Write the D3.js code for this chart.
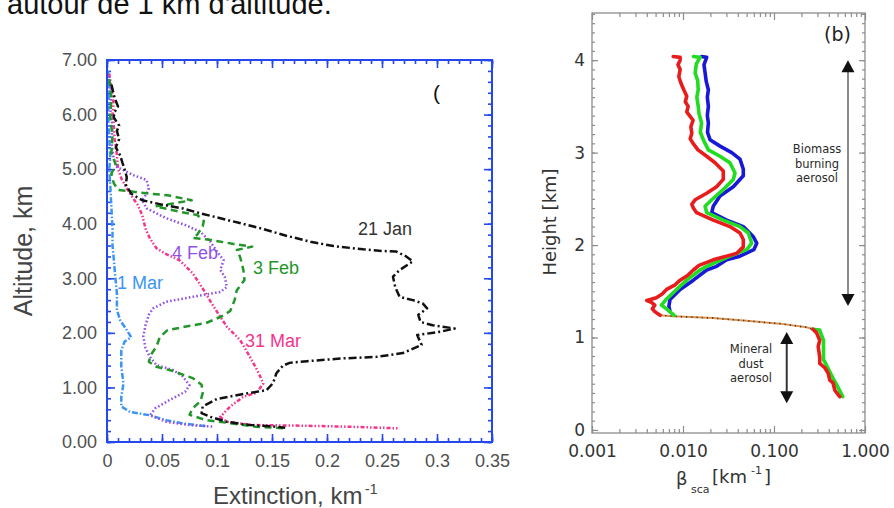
<!DOCTYPE html>
<html>
<head>
<meta charset="utf-8">
<script src="https://cdn.jsdelivr.net/npm/d3@7"></script>
<style>
  html, body { margin: 0; padding: 0; background: #ffffff; }
  svg { display: block; }
</style>
</head>
<body>
<svg id="fig" width="894" height="508"></svg>
<script>
// ---------- Panel (a): extinction profiles, [extinction km^-1, altitude km] ----------
const extTicks = [0, 0.05, 0.1, 0.15, 0.2, 0.25, 0.3, 0.35];
const altTicks = [0, 1, 2, 3, 4, 5, 6, 7];

const jan21 = [[0.004,6.55],[0.007,6.30],[0.010,6.15],[0.007,6.05],[0.006,5.95],[0.011,5.80],[0.009,5.70],[0.011,5.55],[0.008,5.40],[0.012,5.25],[0.014,5.12],[0.016,5.00],[0.018,4.85],[0.017,4.72],[0.022,4.55],[0.032,4.43],[0.050,4.35],[0.069,4.28],[0.085,4.19],[0.109,4.07],[0.139,3.92],[0.163,3.78],[0.185,3.67],[0.206,3.59],[0.233,3.53],[0.251,3.50],[0.263,3.49],[0.272,3.40],[0.278,3.31],[0.266,3.15],[0.260,3.03],[0.262,2.84],[0.266,2.66],[0.278,2.60],[0.287,2.54],[0.291,2.45],[0.283,2.33],[0.285,2.20],[0.296,2.14],[0.316,2.08],[0.303,2.02],[0.282,1.96],[0.286,1.78],[0.269,1.63],[0.245,1.56],[0.212,1.53],[0.182,1.48],[0.166,1.45],[0.160,1.40],[0.154,1.26],[0.151,1.08],[0.145,0.95],[0.127,0.89],[0.100,0.79],[0.087,0.65],[0.086,0.53],[0.094,0.46],[0.109,0.37],[0.130,0.31],[0.154,0.28],[0.162,0.26]];

const feb4 = [[0.002,6.70],[0.004,6.40],[0.003,6.10],[0.005,5.80],[0.004,5.50],[0.006,5.20],[0.008,5.05],[0.024,4.89],[0.036,4.80],[0.038,4.65],[0.036,4.55],[0.032,4.43],[0.036,4.28],[0.054,4.10],[0.072,3.97],[0.085,3.85],[0.094,3.67],[0.100,3.49],[0.106,3.33],[0.103,3.15],[0.107,3.03],[0.109,2.84],[0.103,2.75],[0.078,2.66],[0.054,2.57],[0.042,2.45],[0.038,2.33],[0.035,2.14],[0.033,1.93],[0.035,1.72],[0.039,1.56],[0.045,1.41],[0.060,1.32],[0.069,1.20],[0.075,1.04],[0.071,0.92],[0.057,0.77],[0.044,0.62],[0.039,0.49],[0.054,0.37],[0.075,0.31],[0.097,0.28]];

const feb3 = [[0.002,6.65],[0.004,6.30],[0.003,5.95],[0.005,5.60],[0.004,5.30],[0.008,5.08],[0.004,4.92],[0.006,4.75],[0.010,4.62],[0.030,4.57],[0.055,4.52],[0.077,4.43],[0.060,4.37],[0.044,4.32],[0.066,4.22],[0.082,4.16],[0.088,4.05],[0.087,3.95],[0.082,3.80],[0.078,3.74],[0.095,3.70],[0.115,3.63],[0.132,3.58],[0.118,3.52],[0.121,3.39],[0.124,3.15],[0.125,2.97],[0.118,2.78],[0.116,2.60],[0.112,2.40],[0.104,2.30],[0.090,2.18],[0.073,2.12],[0.055,2.05],[0.048,1.92],[0.045,1.75],[0.040,1.60],[0.038,1.47],[0.045,1.38],[0.060,1.30],[0.078,1.17],[0.086,1.05],[0.087,0.90],[0.085,0.75],[0.078,0.62],[0.075,0.50],[0.090,0.40],[0.110,0.35],[0.135,0.28],[0.162,0.25]];

const mar31 = [[0.002,6.75],[0.004,6.50],[0.006,6.20],[0.005,6.00],[0.006,5.85],[0.007,5.55],[0.009,5.26],[0.010,5.01],[0.013,4.83],[0.018,4.65],[0.022,4.52],[0.028,4.34],[0.032,4.16],[0.035,3.91],[0.039,3.73],[0.045,3.55],[0.053,3.45],[0.066,3.33],[0.078,3.09],[0.088,2.78],[0.097,2.48],[0.109,2.11],[0.121,1.87],[0.130,1.56],[0.138,1.26],[0.142,1.07],[0.136,0.90],[0.124,0.83],[0.112,0.65],[0.103,0.46],[0.109,0.37],[0.133,0.31],[0.175,0.30],[0.220,0.28],[0.266,0.25]];

const mar1 = [[0.001,6.80],[0.002,6.40],[0.001,6.00],[0.002,5.60],[0.003,5.20],[0.002,5.00],[0.003,4.70],[0.004,4.30],[0.005,3.90],[0.005,3.60],[0.006,3.39],[0.007,3.15],[0.009,2.72],[0.009,2.42],[0.012,2.23],[0.018,2.05],[0.022,1.92],[0.016,1.84],[0.013,1.68],[0.013,1.38],[0.015,1.07],[0.013,0.83],[0.013,0.65],[0.021,0.55],[0.039,0.49],[0.054,0.40],[0.069,0.34],[0.090,0.29]];

const profileNames = ["21 Jan", "3 Feb", "4 Feb", "31 Mar", "1 Mar"];

// ---------- Panel (b): scattering coefficient, [beta_sca km^-1, height km] ----------
const betaTicks = [0.001, 0.01, 0.1, 1];
const heightTicks = [0, 1, 2, 3, 4];

const blueUpper = [[0.0160,4.04],[0.0182,4.03],[0.0170,3.95],[0.0175,3.86],[0.0180,3.77],[0.0190,3.68],[0.0185,3.60],[0.0190,3.50],[0.0185,3.40],[0.0190,3.32],[0.0186,3.22],[0.0198,3.14],[0.0255,3.07],[0.0343,3.00],[0.0423,2.93],[0.0460,2.82],[0.0460,2.75],[0.0357,2.63],[0.0255,2.53],[0.0215,2.42],[0.0207,2.35],[0.0302,2.27],[0.0460,2.20],[0.0593,2.09],[0.0646,2.02],[0.0600,1.95],[0.0423,1.88],[0.0302,1.84],[0.0234,1.77],[0.0182,1.73],[0.0130,1.62],[0.0093,1.52],[0.0072,1.41],[0.0070,1.34],[0.0072,1.28]];

const greenUpper = [[0.0130,4.04],[0.0154,4.03],[0.0140,3.96],[0.0136,3.86],[0.0145,3.78],[0.0147,3.68],[0.0142,3.60],[0.0147,3.50],[0.0150,3.42],[0.0160,3.32],[0.0155,3.22],[0.0167,3.14],[0.0190,3.03],[0.0255,2.96],[0.0328,2.89],[0.0373,2.78],[0.0357,2.71],[0.0277,2.60],[0.0207,2.49],[0.0175,2.42],[0.0182,2.35],[0.0277,2.27],[0.0423,2.20],[0.0522,2.13],[0.0569,2.02],[0.0501,1.95],[0.0328,1.88],[0.0182,1.77],[0.0154,1.73],[0.0110,1.62],[0.0085,1.52],[0.0065,1.41],[0.0058,1.35],[0.0068,1.30],[0.0080,1.24]];

const redUpper = [[0.0078,4.04],[0.0093,4.03],[0.0093,4.00],[0.0088,3.95],[0.0093,3.90],[0.0090,3.82],[0.0095,3.75],[0.0102,3.68],[0.0110,3.61],[0.0106,3.55],[0.0114,3.50],[0.0110,3.44],[0.0118,3.40],[0.0129,3.35],[0.0122,3.28],[0.0125,3.21],[0.0120,3.15],[0.0129,3.10],[0.0146,3.03],[0.0182,2.96],[0.0225,2.89],[0.0277,2.80],[0.0277,2.71],[0.0234,2.63],[0.0182,2.56],[0.0136,2.49],[0.0125,2.44],[0.0130,2.40],[0.0141,2.35],[0.0215,2.27],[0.0328,2.20],[0.0423,2.13],[0.0460,2.06],[0.0460,1.98],[0.0389,1.91],[0.0215,1.84],[0.0150,1.78],[0.0130,1.73],[0.0112,1.67],[0.0093,1.62],[0.0082,1.57],[0.0066,1.52],[0.0059,1.47],[0.0051,1.43],[0.0040,1.40],[0.0045,1.38],[0.0049,1.35],[0.0046,1.31],[0.0049,1.28],[0.0056,1.24]];

// sharp step between the dust layer and the smoke layer
const bridge = [[0.0056,1.24],[0.0078,1.23],[0.0214,1.21],[0.0500,1.18],[0.1160,1.15],[0.2280,1.11],[0.2680,1.09]];

const greenLower = [[0.2680,1.09],[0.318,1.08],[0.350,0.97],[0.350,0.90],[0.350,0.76],[0.378,0.70],[0.410,0.63],[0.445,0.56],[0.487,0.49],[0.530,0.42],[0.570,0.36]];

const redLower = [[0.2680,1.09],[0.294,1.05],[0.318,0.97],[0.306,0.90],[0.318,0.79],[0.318,0.72],[0.364,0.67],[0.395,0.61],[0.410,0.54],[0.445,0.51],[0.466,0.43],[0.507,0.38],[0.530,0.36]];

// vertical extents of the two annotated layers [bottom km, top km] and their beta position
const smokeLayer = [1.34, 4.0];
const smokeArrowBeta = 0.65;
const dustLayer = [0.29, 1.06];
const dustArrowBeta = 0.138;

// ---------- drawing ----------
const svg = d3.select("#fig");
const sans = "'Liberation Sans', Arial, Helvetica, sans-serif";
const dejavu = "'DejaVu Sans', Verdana, sans-serif";

// running text line above the figures
svg.append("text")
  .attr("x", 7).attr("y", 14)
  .attr("font-family", sans).attr("font-size", 29).attr("fill", "#111")
  .text("autour de 1 km d'altitude.");

// ===== panel (a) =====
const xA = d3.scaleLinear().domain([0, 0.35]).range([107, 492]);
const yA = d3.scaleLinear().domain([0, 7]).range([442, 60]);
const frameBlue = "#2447ee";
const gA = svg.append("g");

function finishAxis(g, color, width, fontFam, fontSize, textFill) {
  g.select(".domain").remove();
  g.selectAll(".tick line").attr("stroke", color).attr("stroke-width", width);
  g.selectAll(".tick text").attr("font-family", fontFam).attr("font-size", fontSize).attr("fill", textFill);
}

const extMinor = d3.range(0, 36).map(i => i / 100);
const altMinor = d3.range(0, 36).map(i => i / 5);
const extFmt = d => String(+d.toFixed(2));

gA.append("g").attr("transform", "translate(0,442)")
  .call(d3.axisBottom(xA).tickValues(extMinor).tickSize(-4).tickFormat(""))
  .call(g => finishAxis(g, frameBlue, 1.6, sans, 18, "#505050"));
gA.append("g").attr("transform", "translate(0,442)")
  .call(d3.axisBottom(xA).tickValues(extTicks).tickSize(-8).tickPadding(12).tickFormat(extFmt))
  .call(g => finishAxis(g, frameBlue, 1.6, sans, 18, "#505050"));
gA.append("g").attr("transform", "translate(0,60)")
  .call(d3.axisTop(xA).tickValues(extMinor).tickSize(-4).tickFormat(""))
  .call(g => finishAxis(g, frameBlue, 1.6, sans, 18, "#505050"));
gA.append("g").attr("transform", "translate(0,60)")
  .call(d3.axisTop(xA).tickValues(extTicks).tickSize(-8).tickFormat(""))
  .call(g => finishAxis(g, frameBlue, 1.6, sans, 18, "#505050"));
gA.append("g").attr("transform", "translate(107,0)")
  .call(d3.axisLeft(yA).tickValues(altMinor).tickSize(-4).tickFormat(""))
  .call(g => finishAxis(g, frameBlue, 1.6, sans, 18, "#505050"));
gA.append("g").attr("transform", "translate(107,0)")
  .call(d3.axisLeft(yA).tickValues(altTicks).tickSize(-8).tickPadding(10).tickFormat(d3.format(".2f")))
  .call(g => finishAxis(g, frameBlue, 1.6, sans, 18, "#505050"));
gA.append("g").attr("transform", "translate(492,0)")
  .call(d3.axisRight(yA).tickValues(altMinor).tickSize(-4).tickFormat(""))
  .call(g => finishAxis(g, frameBlue, 1.6, sans, 18, "#505050"));
gA.append("g").attr("transform", "translate(492,0)")
  .call(d3.axisRight(yA).tickValues(altTicks).tickSize(-8).tickFormat(""))
  .call(g => finishAxis(g, frameBlue, 1.6, sans, 18, "#505050"));

const lineA = d3.line().x(d => xA(d[0])).y(d => yA(d[1]));
const profiles = [
  { name: profileNames[4], data: mar1,  color: "#3a95f5", dash: "6,2,1.5,2", lx: 117, ly: 289 },
  { name: profileNames[3], data: mar31, color: "#f6348c", dash: "4,2,1.5,2,1.5,2", lx: 245, ly: 347 },
  { name: profileNames[2], data: feb4,  color: "#9152e6", dash: "1.6,2.2", lx: 172, ly: 259 },
  { name: profileNames[1], data: feb3,  color: "#23962a", dash: "7,4.5", lx: 253, ly: 274 },
  { name: profileNames[0], data: jan21, color: "#111111", dash: "8,3,2,3", lx: 358, ly: 235 }
];

profiles.forEach(p => {
  gA.append("path").datum(p.data)
    .attr("d", lineA)
    .attr("fill", "none")
    .attr("stroke", p.color)
    .attr("stroke-width", 2.5)
    .attr("stroke-dasharray", p.dash)
    .attr("stroke-linejoin", "round");
});
profiles.forEach(p => {
  gA.append("text")
    .attr("x", p.lx).attr("y", p.ly)
    .attr("font-family", sans).attr("font-size", 18)
    .attr("fill", p.name === "21 Jan" ? "#333" : p.color)
    .text(p.name);
});

gA.append("rect")
  .attr("x", 107).attr("y", 60).attr("width", 385).attr("height", 382)
  .attr("fill", "none").attr("stroke", frameBlue).attr("stroke-width", 2);

// panel tag (cut at the right edge of the figure)
gA.append("text").attr("x", 433).attr("y", 100)
  .attr("font-family", sans).attr("font-size", 21).attr("fill", "#111").text("(");

// axis titles
gA.append("text")
  .attr("transform", "translate(32,251) rotate(-90)")
  .attr("text-anchor", "middle")
  .attr("font-family", sans).attr("font-size", 25).attr("fill", "#444")
  .text("Altitude, km");
gA.append("text").attr("x", 213).attr("y", 504)
  .attr("font-family", sans).attr("font-size", 24).attr("fill", "#444")
  .text("Extinction, km");
gA.append("text").attr("x", 365).attr("y", 494)
  .attr("font-family", sans).attr("font-size", 14).attr("fill", "#444")
  .text("-1");

// ===== panel (b) =====
const xB = d3.scaleLog().domain([0.001, 1]).range([592, 865]);
const yB = d3.scaleLinear().domain([-0.033, 4.51]).range([433, 13]);
const gB = svg.append("g");
const frameGray = "#8c8c8c";

const betaMinor = [];
[0.001, 0.01, 0.1].forEach(dec => { for (let k = 2; k <= 9; k++) betaMinor.push(dec * k); });
const heightMinor = d3.range(0, 46).map(i => i / 10);

gB.append("g").attr("transform", "translate(0,433)")
  .call(d3.axisBottom(xB).tickValues(betaMinor).tickSize(-4).tickFormat(""))
  .call(g => finishAxis(g, frameGray, 1.2, dejavu, 17, "#333"));
gB.append("g").attr("transform", "translate(0,433)")
  .call(d3.axisBottom(xB).tickValues(betaTicks).tickSize(-7).tickPadding(12).tickFormat(d3.format(".3f")))
  .call(g => finishAxis(g, frameGray, 1.2, dejavu, 17, "#333"));
gB.append("g").attr("transform", "translate(0,13)")
  .call(d3.axisTop(xB).tickValues(betaMinor).tickSize(-4).tickFormat(""))
  .call(g => finishAxis(g, frameGray, 1.2, dejavu, 17, "#333"));
gB.append("g").attr("transform", "translate(0,13)")
  .call(d3.axisTop(xB).tickValues(betaTicks).tickSize(-7).tickFormat(""))
  .call(g => finishAxis(g, frameGray, 1.2, dejavu, 17, "#333"));
gB.append("g").attr("transform", "translate(592,0)")
  .call(d3.axisLeft(yB).tickValues(heightMinor).tickSize(-3).tickFormat(""))
  .call(g => finishAxis(g, frameGray, 1.2, dejavu, 17, "#333"));
gB.append("g").attr("transform", "translate(592,0)")
  .call(d3.axisLeft(yB).tickValues(heightTicks).tickSize(-6).tickPadding(7).tickFormat(d3.format("d")))
  .call(g => finishAxis(g, frameGray, 1.2, dejavu, 17, "#333"));
gB.append("g").attr("transform", "translate(865,0)")
  .call(d3.axisRight(yB).tickValues(heightMinor).tickSize(-3).tickFormat(""))
  .call(g => finishAxis(g, frameGray, 1.2, dejavu, 17, "#333"));
gB.append("g").attr("transform", "translate(865,0)")
  .call(d3.axisRight(yB).tickValues(heightTicks).tickSize(-6).tickFormat(""))
  .call(g => finishAxis(g, frameGray, 1.2, dejavu, 17, "#333"));

gB.append("rect")
  .attr("x", 592).attr("y", 13).attr("width", 273).attr("height", 420)
  .attr("fill", "none").attr("stroke", frameGray).attr("stroke-width", 1.3);

const lineB = d3.line().x(d => xB(d[0])).y(d => yB(d[1]));

// thin transition through the sharp gradient
gB.append("path").datum(bridge).attr("d", lineB)
  .attr("fill", "none").attr("stroke", "#e0904a").attr("stroke-width", 2);
gB.append("path").datum(bridge).attr("d", lineB)
  .attr("fill", "none").attr("stroke", "#3a3a3a").attr("stroke-width", 1.6)
  .attr("stroke-dasharray", "1.2,4");

const channels = [
  { data: blueUpper,  color: "#1818d8" },
  { data: greenUpper, color: "#22dc22" },
  { data: greenLower, color: "#22dc22" },
  { data: redUpper,   color: "#e81c1c" },
  { data: redLower,   color: "#e81c1c" }
];
channels.forEach(c => {
  gB.append("path").datum(c.data).attr("d", lineB)
    .attr("fill", "none").attr("stroke", c.color)
    .attr("stroke-width", 3.6).attr("stroke-linejoin", "round").attr("stroke-linecap", "round");
});

// layer arrows
function layerArrow(beta, range, shaftColor) {
  const x = xB(beta), yTop = yB(range[1]), yBot = yB(range[0]);
  const head = 12, half = 6.5;
  gB.append("line").attr("x1", x).attr("x2", x).attr("y1", yTop + head - 1).attr("y2", yBot - head + 1)
    .attr("stroke", shaftColor).attr("stroke-width", 2);
  gB.append("path").attr("d", `M${x},${yTop} L${x - half},${yTop + head} L${x + half},${yTop + head} Z`).attr("fill", "#111");
  gB.append("path").attr("d", `M${x},${yBot} L${x - half},${yBot - head} L${x + half},${yBot - head} Z`).attr("fill", "#111");
}
layerArrow(smokeArrowBeta, smokeLayer, "#8a8a8a");
layerArrow(dustArrowBeta, dustLayer, "#333");

function block(lines, x, y0, step) {
  lines.forEach((t, i) => {
    gB.append("text").attr("x", x).attr("y", y0 + i * step)
      .attr("text-anchor", "middle")
      .attr("font-family", dejavu).attr("font-size", 11.5).attr("fill", "#2a2a2a")
      .text(t);
  });
}
block(["Biomass", "burning", "aerosol"], 817, 153, 14.5);
block(["Mineral", "dust", "aerosol"], 751, 353, 14.5);

gB.append("text").attr("x", 824).attr("y", 41)
  .attr("font-family", dejavu).attr("font-size", 19).attr("fill", "#222").text("(b)");

// axis titles
gB.append("text")
  .attr("transform", "translate(556,222) rotate(-90)")
  .attr("text-anchor", "middle")
  .attr("font-family", dejavu).attr("font-size", 18).attr("fill", "#333")
  .text("Height [km]");
gB.append("text").attr("x", 676).attr("y", 485)
  .attr("font-family", dejavu).attr("font-size", 18).attr("fill", "#333").text("β");
gB.append("text").attr("x", 691).attr("y", 493)
  .attr("font-family", dejavu).attr("font-size", 11).attr("fill", "#333").text("sca");
gB.append("text").attr("x", 712).attr("y", 483)
  .attr("font-family", dejavu).attr("font-size", 18).attr("fill", "#333").text("[km");
gB.append("text").attr("x", 751).attr("y", 474)
  .attr("font-family", dejavu).attr("font-size", 11).attr("fill", "#333").text("-1");
gB.append("text").attr("x", 764).attr("y", 483)
  .attr("font-family", dejavu).attr("font-size", 18).attr("fill", "#333").text("]");
</script>
</body>
</html>
